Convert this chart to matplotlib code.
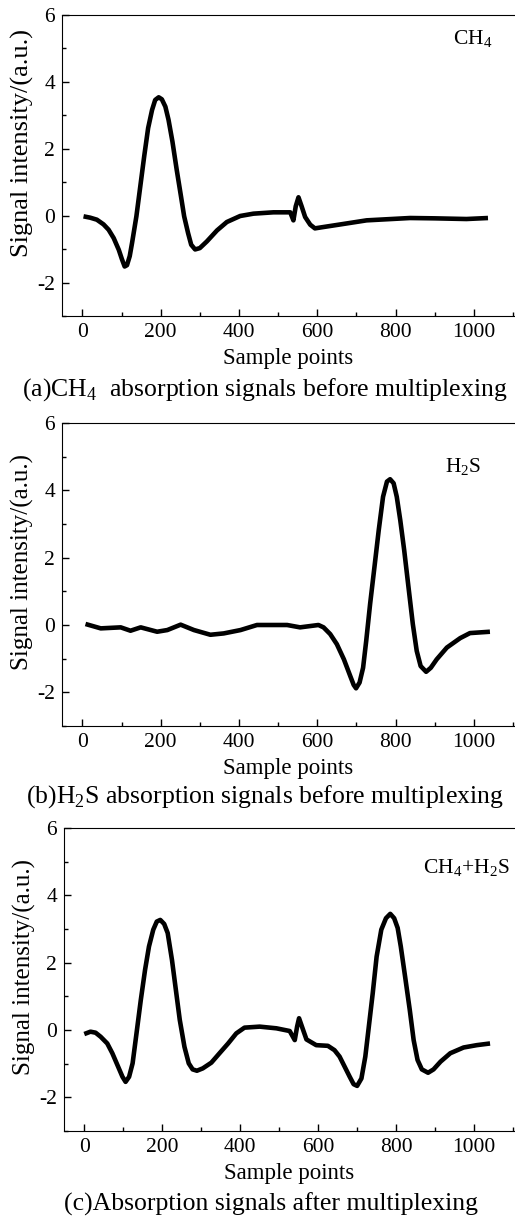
import matplotlib
matplotlib.use("Agg")
import matplotlib.pyplot as plt
from matplotlib.ticker import MultipleLocator

plt.rcParams["font.family"] = ["Liberation Serif", "DejaVu Serif"]
plt.rcParams["mathtext.fontset"] = "custom"
plt.rcParams["mathtext.rm"] = "Liberation Serif"
plt.rcParams["axes.unicode_minus"] = False

# ==========================================
# Data
# ==========================================

ch4_x = [3, 20, 37, 54, 67, 80, 93, 101, 108, 114, 121, 127, 138, 148, 158, 168,
         178, 186, 195, 203, 212, 220, 230, 241, 252, 260, 270, 278, 288, 300,
         318, 344, 369, 403, 437, 488, 531, 539, 545, 552, 560, 569, 582, 594,
         610, 660, 726, 837, 900, 981, 1036]
ch4_y = [-0.02, -0.06, -0.12, -0.26, -0.42, -0.67, -1.02, -1.30, -1.52, -1.48,
         -1.21, -0.81, -0.02, 0.88, 1.78, 2.62, 3.16, 3.46, 3.54, 3.48, 3.26,
         2.87, 2.22, 1.37, 0.57, -0.02, -0.52, -0.87, -1.01, -0.97, -0.77,
         -0.44, -0.19, -0.01, 0.06, 0.10, 0.10, -0.14, 0.28, 0.55, 0.28, -0.04,
         -0.27, -0.38, -0.35, -0.26, -0.14, -0.07, -0.08, -0.10, -0.07]

h2s_x = [8, 47, 98, 123, 149, 191, 217, 251, 285, 327, 361, 404, 446, 523, 556,
         603, 616, 633, 650, 668, 685, 693, 699, 708, 717, 725, 735, 746, 757,
         768, 778, 786, 795, 803, 812, 822, 833, 844, 854, 864, 878, 890, 905,
         931, 965, 990, 1041]
h2s_y = [0.03, -0.10, -0.07, -0.17, -0.07, -0.20, -0.15, 0.01, -0.15, -0.29,
         -0.25, -0.15, 0.00, 0.00, -0.07, 0.00, -0.07, -0.27, -0.57, -1.02,
         -1.54, -1.78, -1.88, -1.71, -1.27, -0.47, 0.63, 1.72, 2.82, 3.81, 4.26,
         4.33, 4.21, 3.81, 3.11, 2.22, 1.12, 0.03, -0.77, -1.22, -1.39, -1.27,
         -1.02, -0.67, -0.39, -0.24, -0.20]

mix_x = [0, 16, 29, 42, 59, 72, 85, 98, 106, 115, 124, 134, 145, 156, 166, 177,
         186, 195, 205, 214, 225, 235, 245, 257, 268, 278, 289, 304, 326, 347,
         369, 390, 411, 450, 493, 527, 540, 546, 551, 560, 570, 595, 625, 642,
         655, 668, 681, 691, 700, 711, 721, 730, 740, 750, 762, 774, 785, 795,
         804, 812, 823, 835, 845, 855, 866, 882, 896, 914, 939, 973, 1007, 1041]
mix_y = [-0.12, -0.05, -0.08, -0.20, -0.40, -0.69, -1.04, -1.39, -1.54, -1.39,
         -0.99, -0.10, 0.89, 1.79, 2.48, 2.98, 3.22, 3.27, 3.15, 2.88, 2.08,
         1.19, 0.30, -0.50, -0.99, -1.17, -1.21, -1.14, -0.97, -0.69, -0.40,
         -0.10, 0.07, 0.10, 0.05, -0.03, -0.30, 0.10, 0.35, 0.05, -0.28, -0.45,
         -0.47, -0.60, -0.79, -1.09, -1.39, -1.61, -1.66, -1.44, -0.79, 0.10,
         1.09, 2.18, 2.98, 3.32, 3.45, 3.32, 3.03, 2.48, 1.59, 0.60, -0.30,
         -0.89, -1.17, -1.27, -1.17, -0.94, -0.69, -0.52, -0.45, -0.40]

series = [
    (ch4_x, ch4_y, r"CH$_\mathrm{4}$",
     r"(a)CH$_\mathrm{4}$  absorption signals before multiplexing"),
    (h2s_x, h2s_y, r"H$_\mathrm{2}$S",
     r"(b)H$_\mathrm{2}$S absorption signals before multiplexing"),
    (mix_x, mix_y, r"CH$_\mathrm{4}$+H$_\mathrm{2}$S",
     "(c)Absorption signals after multiplexing"),
]

# ==========================================
# Layout (pixels of a 515x1216 figure)
# ==========================================

W, H = 515, 1216
boxes = [(62, 15, 316), (62, 423, 726), (64, 828, 1131)]
caption_pos = [(265, 390), (265, 797), (271, 1204)]
tag_pos = [(453, 39), (445, 467), (423, 868)]
ylabel_style = [(19, 0.575), (18, 0.54), (18, 0.54)]

fig = plt.figure(figsize=(W / 100, H / 100), dpi=100)

for (xs, ys, tag, caption), (left, top, bottom), (cx, cy), (tx, ty), (ys_size, ys_pos) in zip(
        series, boxes, caption_pos, tag_pos, ylabel_style):
    ax = fig.add_axes([left / W, 1 - bottom / H, 1 - left / W, (bottom - top) / H])
    ax.plot(xs, ys, color="black", lw=3.3, solid_joinstyle="round",
            solid_capstyle="butt")
    ax.set_xlim(-52, 1105)
    ax.set_ylim(-3, 6)
    ax.spines["right"].set_visible(False)
    ax.xaxis.set_major_locator(MultipleLocator(200))
    ax.xaxis.set_minor_locator(MultipleLocator(100))
    ax.yaxis.set_major_locator(MultipleLocator(2))
    ax.yaxis.set_minor_locator(MultipleLocator(1))
    ax.tick_params(which="both", direction="in", labelsize=15.5, top=False,
                   right=False, pad=5)
    ax.tick_params(which="major", length=5, width=1)
    ax.tick_params(which="minor", length=3, width=1)
    ax.set_xlabel("Sample points", fontsize=16.5)
    ax.set_ylabel("Signal intensity/(a.u.)", fontsize=ys_size)
    ax.xaxis.set_label_coords(0.5, -0.105)
    ax.yaxis.set_label_coords(-0.062, ys_pos)
    fig.text(tx / W, 1 - ty / H, tag, fontsize=15.5, ha="left", va="center")
    fig.text(cx / W, 1 - cy / H, caption, fontsize=18.5, ha="center", va="center")

fig.savefig("out.png", dpi=100)
plt.close(fig)
